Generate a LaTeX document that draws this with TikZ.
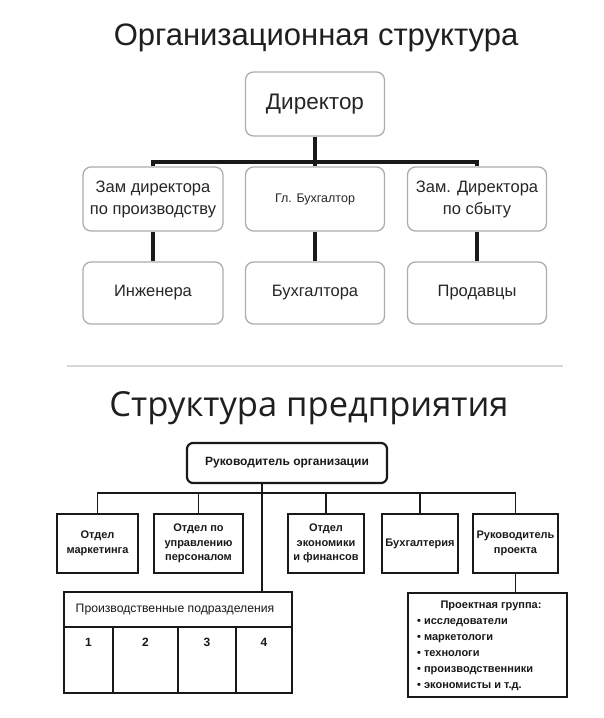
\documentclass[tikz,border=0pt]{standalone}
\usepackage{fontspec}
\setmainfont{Liberation Sans}
\newfontfamily\opensans{Open Sans}
\usetikzlibrary{calc}
\begin{document}
\begin{tikzpicture}[x=1pt,y=-1pt,
  tbox/.style={draw=black!32, line width=1.3pt, rounded corners=8pt, fill=white,
    minimum height=64pt, inner sep=0pt, align=center, text=black!85,
    font=\fontsize{16.5}{22}\selectfont},
  tconn/.style={line width=3.2pt, black!90},
  bbox/.style={draw=black!90, line width=2.2pt, fill=white, minimum height=59pt,
    inner sep=0pt, align=center, text=black!90,
    font=\bfseries\fontsize{11}{14.5}\selectfont},
  bconn/.style={line width=1.6pt, black!90},
  ttl/.style={anchor=base, text=black!88},
  lbl/.style={inner sep=0pt, text=black!90, font=\bfseries\fontsize{11}{16}\selectfont}
]
\fill[white] (0,0) rectangle (604,718);
\useasboundingbox (0,0) rectangle (604,718);

% ---------- top chart ----------
\node[ttl, font=\fontsize{31}{34}\selectfont] (t1) at (316,45) {Организационная структура};

\node[tbox, minimum width=139pt, font=\fontsize{22.5}{24}\selectfont] (dir) at (315,104) {Директор};
\node[tbox, minimum width=140pt] (zp) at (153,199) {Зам директора\\по производству};
\node[tbox, minimum width=139pt, font=\fontsize{12.5}{14}\selectfont] (gb) at (315,199) {Гл. Бухгалтор};
\node[tbox, minimum width=139pt] (zs) at (477,199) {Зам. Директора\\по сбыту};
\node[tbox, minimum width=140pt, minimum height=62pt] (ing) at (153,293) {Инженера};
\node[tbox, minimum width=139pt, minimum height=62pt] (bug) at (315,293) {Бухгалтора};
\node[tbox, minimum width=139pt, minimum height=62pt] (prd) at (477,293) {Продавцы};

\coordinate (hl) at (153,162);
\draw[tconn] (dir.south) -- (gb.north);
\draw[tconn] (zp.north) -- (zp.north |- hl) -- (zs.north |- hl) -- (zs.north);
\draw[tconn] (zp.south) -- (ing.north);
\draw[tconn] (gb.south) -- (bug.north);
\draw[tconn] (zs.south) -- (prd.north);

% separator
\draw[black!16, line width=1.4pt] (67,366) -- (563,366);

% ---------- bottom chart ----------
\node[ttl, font=\opensans\fontsize{34.5}{36}\selectfont] (t2) at (309,416) {Структура предприятия};

\node[draw=black!90, line width=2.2pt, rounded corners=6pt, fill=white,
  minimum width=200pt, minimum height=40pt, inner sep=0pt, text=black!90,
  font=\bfseries\fontsize{12}{14}\selectfont] (ro) at (287,463) {Руководитель организации};

\node[bbox, minimum width=81pt] (om) at (97.5,543.5) {Отдел\\маркетинга};
\node[bbox, minimum width=89pt] (op) at (198.5,543.5) {Отдел по\\управлению\\персоналом};
\node[bbox, minimum width=76pt] (oe) at (326,543.5) {Отдел\\экономики\\и финансов};
\node[bbox, minimum width=76pt] (bh) at (420,543.5) {Бухгалтерия};
\node[bbox, minimum width=85pt] (rp) at (515.5,543.5) {Руководитель\\проекта};

% production table
\node[draw=black!90, line width=1.8pt, fill=white, minimum width=228pt,
  minimum height=101pt, inner sep=0pt] (tab) at (178,642.5) {};
\node[lbl, font=\fontsize{12.2}{14}\selectfont] (tabh) at (175,610) {Производственные подразделения};
\draw[black!90, line width=1.8pt] (64,627) -- (292,627);
\draw[black!90, line width=1.8pt] (113,627) -- (113,693);
\draw[black!90, line width=1.8pt] (178,627) -- (178,693);
\draw[black!90, line width=1.8pt] (236,627) -- (236,693);
\node[lbl, font=\bfseries\fontsize{12}{14}\selectfont] (n1) at (88.5,642) {1};
\node[lbl, font=\bfseries\fontsize{12}{14}\selectfont] (n2) at (145.5,642) {2};
\node[lbl, font=\bfseries\fontsize{12}{14}\selectfont] (n3) at (207,642) {3};
\node[lbl, font=\bfseries\fontsize{12}{14}\selectfont] (n4) at (264,642) {4};

% project group
\node[draw=black!90, line width=1.8pt, fill=white, minimum width=159pt,
  minimum height=104pt, inner sep=0pt] (pg) at (487.5,645) {};
\node[lbl] (pgh) at (491,606) {Проектная группа:};
\node[lbl, anchor=north west, align=left] (pgl) at (417,618)
  {• исследователи\\• маркетологи\\• технологи\\• производственники\\• экономисты и т.д.};

% connectors
\coordinate (stem) at (262,493);
\coordinate (hr) at (515.5,493);
\draw[bconn] (ro.south -| stem) -- (tab.north -| stem);
\draw[bconn] (om.north) -- (om.north |- stem) -- (hr) -- (rp.north);
\draw[bconn] (op.north) -- (op.north |- stem);
\draw[bconn] (oe.north) -- (oe.north |- stem);
\draw[bconn] (bh.north) -- (bh.north |- stem);
\draw[bconn] (rp.south) -- (rp.south |- pg.north);
\end{tikzpicture}
\end{document}
